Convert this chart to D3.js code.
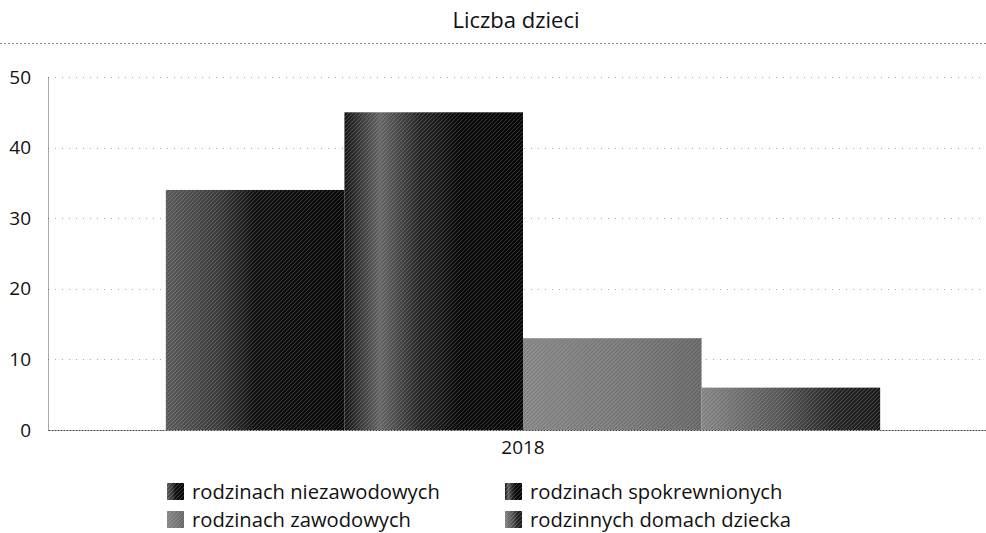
<!DOCTYPE html>
<html>
<head>
<meta charset="utf-8">
<script src="https://cdn.jsdelivr.net/npm/d3@7"></script>
<style>
  body { margin: 0; background: #fff; }
  svg text { font-family: "Open Sans", "DejaVu Sans", sans-serif; fill: #111; }
</style>
</head>
<body>
<div id="chart"></div>
<script>
var categories = ["2018"];
var seriesNames = ["rodzinach niezawodowych", "rodzinach spokrewnionych", "rodzinach zawodowych", "rodzinnych domach dziecka"];
var seriesValues = [34, 45, 13, 6];
var yTicks = [0, 10, 20, 30, 40, 50];
var chartTitle = "Liczba dzieci";

function draw(width, height) {
    var svg = d3.select("#chart").append("svg")
        .attr("width", width)
        .attr("height", height);

    var defs = svg.append("defs");

    // scanned-looking fills: gradients from gray to black per series
    var gradStops = [
        [[0, "#5a5a5a"], [0.3, "#3a3a3a"], [0.5, "#101010"], [1, "#050505"]],
        [[0, "#151515"], [0.2, "#666666"], [0.42, "#262626"], [0.65, "#080808"], [1, "#050505"]],
        [[0, "#858585"], [0.6, "#767676"], [1, "#666666"]],
        [[0, "#858585"], [0.45, "#555555"], [0.75, "#252525"], [1, "#1a1a1a"]]
    ];
    gradStops.forEach(function(stops, i) {
        var g = defs.append("linearGradient")
            .attr("id", "grad" + i)
            .attr("x1", "0%").attr("x2", "100%")
            .attr("y1", "0%").attr("y2", "0%");
        stops.forEach(function(s) {
            g.append("stop").attr("offset", s[0]).attr("stop-color", s[1]);
        });
    });

    var hatch = defs.append("pattern")
        .attr("id", "hatch")
        .attr("patternUnits", "userSpaceOnUse")
        .attr("width", 4).attr("height", 4);
    hatch.append("path")
        .attr("d", "M-1,1 l2,-2 M0,4 l4,-4 M3,5 l2,-2")
        .attr("stroke", "#bbb")
        .attr("stroke-width", 0.6)
        .attr("opacity", 0.5);

    var left = 48, right = 998, top = 77, bottom = 430;

    var y = d3.scaleLinear().domain([0, 50]).range([bottom, top]);
    var x0 = d3.scaleBand().domain(categories).range([left, right])
        .paddingInner(0).paddingOuter(0.165);
    var x1 = d3.scaleBand().domain(seriesNames).range([0, x0.bandwidth()]).padding(0);

    // title
    svg.append("text")
        .attr("x", 516).attr("y", 28)
        .attr("text-anchor", "middle")
        .style("font-size", "22px")
        .text(chartTitle);

    svg.append("line")
        .attr("x1", 0).attr("x2", width)
        .attr("y1", 43.5).attr("y2", 43.5)
        .attr("stroke", "#888")
        .attr("stroke-dasharray", "2,2");

    // grid
    svg.append("g")
        .selectAll("line")
        .data(yTicks.filter(function(d) { return d > 0; }))
        .join("line")
        .attr("x1", left).attr("x2", width)
        .attr("y1", function(d) { return Math.round(y(d)) + 0.5; })
        .attr("y2", function(d) { return Math.round(y(d)) + 0.5; })
        .attr("stroke", "#aaa")
        .attr("stroke-width", 1)
        .attr("stroke-dasharray", "1,6");

    // bars
    var groups = svg.append("g")
        .selectAll("g")
        .data(categories)
        .join("g")
        .attr("transform", function(d) { return "translate(" + x0(d) + ",0)"; });

    function rows() {
        return seriesNames.map(function(s, i) { return { key: s, i: i, value: seriesValues[i] }; });
    }

    groups.selectAll("rect.bar")
        .data(rows)
        .join("rect")
        .attr("class", "bar")
        .attr("x", function(d) { return x1(d.key); })
        .attr("y", function(d) { return y(d.value); })
        .attr("width", x1.bandwidth())
        .attr("height", function(d) { return bottom - y(d.value); })
        .attr("fill", function(d) { return "url(#grad" + d.i + ")"; });

    groups.selectAll("rect.hatch")
        .data(rows)
        .join("rect")
        .attr("class", "hatch")
        .attr("x", function(d) { return x1(d.key); })
        .attr("y", function(d) { return y(d.value); })
        .attr("width", x1.bandwidth())
        .attr("height", function(d) { return bottom - y(d.value); })
        .attr("fill", "url(#hatch)");

    // y axis
    var yAxis = svg.append("g")
        .attr("transform", "translate(" + left + ",0)")
        .call(d3.axisLeft(y).tickValues(yTicks).tickSize(0).tickPadding(17));
    yAxis.select(".domain")
        .attr("stroke", "#555")
        .attr("stroke-dasharray", "1,1");
    yAxis.selectAll("text")
        .style("font-size", "19px")
        .style("font-family", "\"Open Sans\", sans-serif")
        .attr("fill", "#222");

    // x axis
    var xAxis = svg.append("g")
        .attr("transform", "translate(0," + bottom + ")")
        .call(d3.axisBottom(x0).tickSize(0).tickPadding(11));
    xAxis.select(".domain")
        .attr("stroke", "#444")
        .attr("stroke-dasharray", "2,1");
    xAxis.selectAll("text")
        .style("font-size", "19px")
        .style("font-family", "\"Open Sans\", sans-serif")
        .attr("fill", "#222");

    // legend, two columns filled row-wise
    var legendX = [167, 505];
    var legendY = [492, 520];
    var legend = svg.append("g")
        .selectAll("g")
        .data(seriesNames)
        .join("g")
        .attr("transform", function(d, i) {
            return "translate(" + legendX[i % 2] + "," + legendY[Math.floor(i / 2)] + ")";
        });

    legend.append("rect")
        .attr("x", 0).attr("y", -9)
        .attr("width", 17).attr("height", 17)
        .attr("fill", function(d, i) { return "url(#grad" + i + ")"; });
    legend.append("rect")
        .attr("x", 0).attr("y", -9)
        .attr("width", 17).attr("height", 17)
        .attr("fill", "url(#hatch)");

    legend.append("text")
        .attr("x", 25).attr("y", 0)
        .attr("dy", "0.35em")
        .style("font-size", "20.2px")
        .text(function(d) { return d; });
}

draw(986, 533);
</script>
</body>
</html>
